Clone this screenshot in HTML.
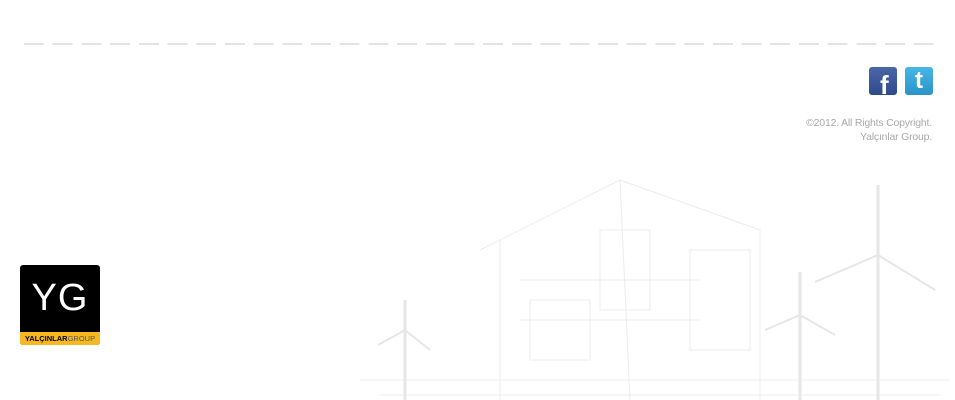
<!DOCTYPE html>
<html><head><meta charset="utf-8"><style>
body{margin:0;width:955px;height:400px;background:#fff;position:relative;overflow:hidden;font-family:"Liberation Sans",sans-serif}
.dash{position:absolute;left:24px;top:43px;width:910px;height:2px;background:repeating-linear-gradient(90deg,#e3e3e3 0 20px,transparent 20px 28.7px)}
.fb{position:absolute;left:869px;top:67px;width:28px;height:28px;border-radius:3px;background:linear-gradient(#4a67a8,#2f4a8a);color:#fff;font:bold 26px "Liberation Sans",sans-serif;overflow:hidden}
.fb span{position:absolute;left:11px;top:3px}
.tw{position:absolute;left:905px;top:67px;width:28px;height:28px;border-radius:3px;background:linear-gradient(#48b6e6,#2a93c8);color:#fff;font:bold 24px "Liberation Sans",sans-serif;text-align:center;line-height:28px}
.copy{position:absolute;right:23px;top:116px;text-align:right;color:#a8a8a8;font-size:10.5px;line-height:14px;letter-spacing:-0.2px}
.logo{position:absolute;left:20px;top:265px;width:80px;height:80px;background:#000;border-radius:3px;overflow:hidden}
.logo .yg{position:absolute;left:0;width:80px;top:12px;text-align:center;color:#fff;font-size:38px;font-weight:300;letter-spacing:1px}
.logo .bar{position:absolute;left:0;bottom:0;width:80px;height:13px;background:#f5b820;font-size:7.5px;line-height:13px;text-align:center;font-weight:bold;color:#000}
.logo .bar b{color:#555;font-weight:normal}
svg{position:absolute;left:0;top:0}
</style></head><body>
<svg width="955" height="400" fill="none" stroke="#ececec" stroke-width="1">
<path d="M480 250 L620 180 L760 230 L760 400 M500 240 L500 400 M520 280 L700 280 M520 320 L700 320 M530 300 h60 v60 h-60z M600 230 h50 v80 h-50z M690 250 h60 v100 h-60z M620 180 L630 400 M360 380 L950 380 M380 395 L940 395"/>
<path stroke="#e6e6e6" stroke-width="3" d="M878 185 L878 400 M800 272 L800 400 M405 300 L405 400"/>
<path stroke="#e6e6e6" stroke-width="2" d="M878 255 L815 282 M878 255 L935 290 M800 315 L765 330 M800 315 L835 335 M405 330 L378 345 M405 330 L430 350"/>
</svg>
<div class="dash"></div>
<div class="fb"><span>f</span></div>
<div class="tw">t</div>
<div class="copy">©2012. All Rights Copyright.<br>Yalçınlar Group.</div>
<div class="logo"><div class="yg">YG</div><div class="bar">YALÇINLAR<b>GROUP</b></div></div>
</body></html>
